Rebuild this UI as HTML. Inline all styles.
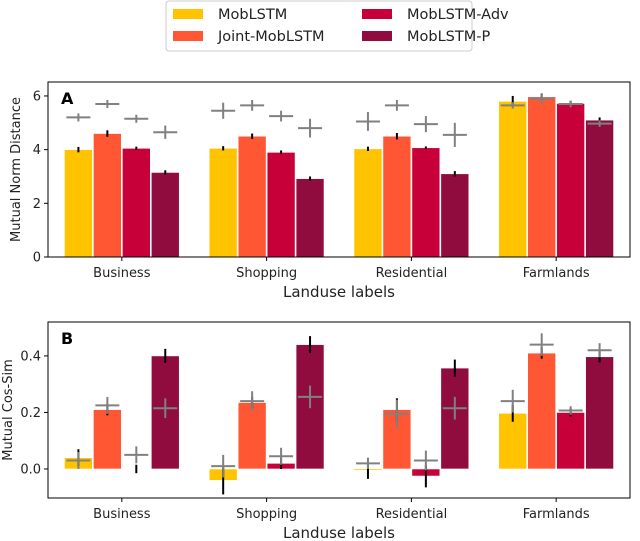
<!DOCTYPE html>
<html><head><meta charset="utf-8"><style>
body{margin:0;background:#fff;}
svg{display:block;font-family:"DejaVu Sans","Liberation Sans",sans-serif;}
</style></head><body>
<svg id="c" width="640" height="541" viewBox="0 0 640 541"></svg>
<script>
const categories=["Business","Shopping","Residential","Farmlands"];
const seriesNames=["MobLSTM","Joint-MobLSTM","MobLSTM-Adv","MobLSTM-P"];
const colors=["#ffc300","#ff5733","#c70039","#900c3f"];
const normVals=[[4.0,4.05,4.03,5.8],[4.6,4.5,4.5,5.97],[4.05,3.9,4.07,5.72],[3.15,2.92,3.1,5.1]];
const normErr=[[0.1,0.08,0.08,0.2],[0.12,0.1,0.12,0.12],[0.06,0.07,0.05,0.1],[0.08,0.08,0.1,0.1]];
const normPlus=[[5.2,5.45,5.05,5.65],[5.7,5.65,5.65,5.9],[5.15,5.25,4.95,5.7],[4.65,4.8,4.55,4.97]];
const normPlusErr=[[0.15,0.3,0.35,0.12],[0.15,0.2,0.2,0.2],[0.15,0.2,0.3,0.12],[0.25,0.35,0.45,0.12]];
const cosVals=[[0.04,-0.04,-0.005,0.197],[0.21,0.235,0.21,0.41],[0.0,0.02,-0.025,0.2],[0.40,0.44,0.357,0.397]];
const cosErr=[[0.03,0.05,0.03,0.03],[0.02,0.02,0.04,0.02],[0.015,0.02,0.04,0.015],[0.025,0.03,0.03,0.02]];
const cosPlus=[[0.03,0.01,0.02,0.24],[0.225,0.24,0.195,0.44],[0.05,0.045,0.03,0.207],[0.215,0.255,0.215,0.42]];
const cosPlusErr=[[0.03,0.04,0.02,0.04],[0.03,0.035,0.05,0.04],[0.03,0.03,0.035,0.015],[0.035,0.04,0.04,0.025]];
const normTicks=[0,2,4,6];
const cosTicks=[0.0,0.2,0.4];
const cosTickLabels=["0.0","0.2","0.4"];

const NS="http://www.w3.org/2000/svg";
const svg=document.getElementById('c');
function mk(tag,attrs,parent,text){const e=document.createElementNS(NS,tag);for(const k in attrs)e.setAttribute(k,attrs[k]);if(text!==undefined)e.textContent=text;(parent||svg).appendChild(e);return e;}

function panel(o){
  const g=mk('g',{});
  
  
  const L=48,R=630;
  const x=v=>L+(v+0.51)*(R-L)/4.02;
  const y=v=>o.bot+(v-o.ymin)*(o.top-o.bot)/(o.ymax-o.ymin);
  const bw=(R-L)/4.02*0.2;
  for(let s=0;s<4;s++){for(let c=0;c<4;c++){
    const cx=x(c)+(s-1.5)*bw;
    const v=o.vals[s][c];
    const r=mk('rect',{x:cx-bw/2+0.5,y:Math.min(y(v),y(0)),width:bw-1,height:Math.abs(y(v)-y(0)),fill:colors[s],stroke:'#fff','stroke-width':0.6},g);
    
    
    const e=mk('line',{x1:cx,x2:cx,y1:y(v-o.err[s][c]),y2:y(v+o.err[s][c]),stroke:'#000','stroke-width':2},g);
    
    
  }}
  for(let s=0;s<4;s++){for(let c=0;c<4;c++){
    const cx=x(c)+(s-1.5)*bw;const p=o.plus[s][c];
    const h=mk('line',{x1:cx-12,x2:cx+12,y1:y(p),y2:y(p),stroke:'#808080','stroke-width':2},g);
    
    
    const vv=mk('line',{x1:cx,x2:cx,y1:y(p-o.perr[s][c]),y2:y(p+o.perr[s][c]),stroke:'#808080','stroke-width':2},g);
    
    
  }}
  mk('rect',{x:L,y:o.top,width:R-L,height:o.bot-o.top,fill:'none',stroke:'#000','stroke-width':1},g);
  o.ticks.forEach((t,i)=>{
    mk('line',{x1:L-4,x2:L,y1:y(t),y2:y(t),stroke:'#000'},g);
    mk('text',{x:L-7,y:y(t)+4.5,'text-anchor':'end','font-size':13,fill:'#222'},g,o.tlabels[i]);
  });
  categories.forEach((c,i)=>{
    mk('line',{x1:x(i),x2:x(i),y1:o.bot,y2:o.bot+4,stroke:'#000'},g);
    mk('text',{x:x(i),y:o.bot+20,'text-anchor':'middle','font-size':13,fill:'#222'},g,c);
  });
  const xl=mk('text',{x:(L+R)/2,y:o.bot+40,'text-anchor':'middle','font-size':15,fill:'#222'},g,'Landuse labels');
  
  
  const yl=mk('text',{x:0,y:0,transform:`translate(${o.ylx},${(o.top+o.bot)/2}) rotate(-90)`,'text-anchor':'middle','font-size':13,fill:'#222'},g,o.ylabel);
  
  
  const pl=mk('text',{x:L+13,y:o.top+22,'font-size':16,'font-weight':'bold',fill:'#000'},g,o.letter);
  
  
}
panel({name:'panel-a',top:82,bot:257,ymin:0,ymax:6.52,vals:normVals,err:normErr,plus:normPlus,perr:normPlusErr,ticks:normTicks,tlabels:normTicks.map(String),ylabel:'Mutual Norm Distance',ylx:20,letter:'A'});
panel({name:'panel-b',top:322,bot:498,ymin:-0.1027,ymax:0.52,vals:cosVals,err:cosErr,plus:cosPlus,perr:cosPlusErr,ticks:cosTicks,tlabels:cosTickLabels,ylabel:'Mutual Cos-Sim',ylx:12,letter:'B'});

const lg=mk('g',{});


mk('rect',{x:166,y:1,width:306,height:50,rx:3,fill:'#fff',stroke:'#ccc'},lg);
seriesNames.forEach((n,i)=>{
  const col=Math.floor(i/2),row=i%2;
  const px=col?362:173, py=row?36:14;
  const e=mk('g',{},lg);
  
  
  mk('rect',{x:px,y:py-5,width:30,height:10,fill:colors[i]},e);
  mk('text',{x:px+45,y:py+5,'font-size':14.5,fill:'#222'},e,n);
});
</script>
</body></html>
